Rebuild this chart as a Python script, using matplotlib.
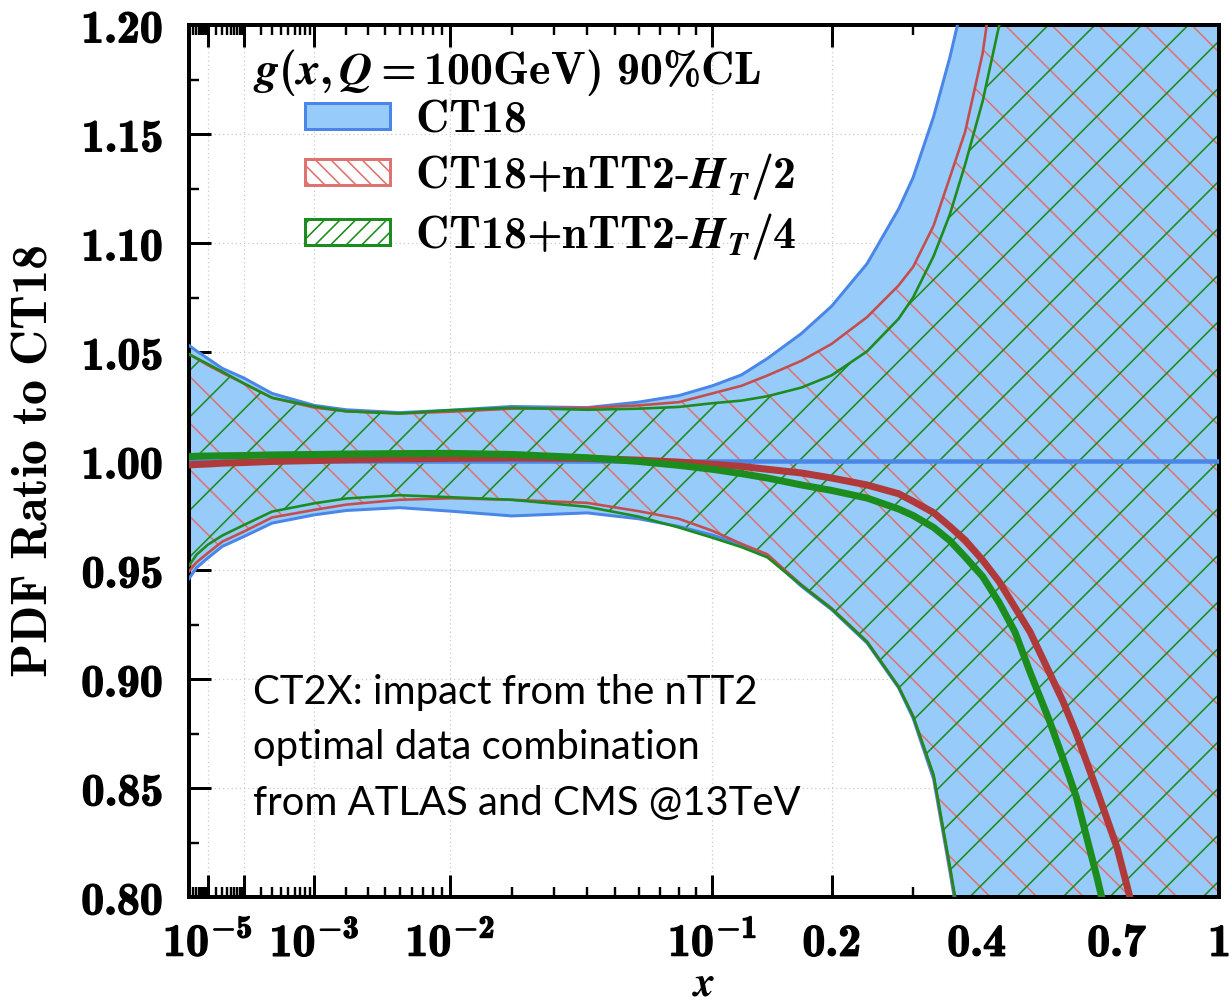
import numpy as np
import matplotlib
matplotlib.use("Agg")
import matplotlib.pyplot as plt
import matplotlib.patheffects as pe
from matplotlib.patches import Patch

DPI = 140
W, H = 1230, 1005


def pt(px):
    # sizes below are measured in pixels of the target picture
    return px * 72 / DPI


plt.rcParams["mathtext.fontset"] = "custom"
plt.rcParams["mathtext.rm"] = "cmr10"
plt.rcParams["mathtext.it"] = "cmmi10"
plt.rcParams["mathtext.bf"] = "cmb10"
if "mathtext.bfit" in plt.rcParams:
    plt.rcParams["mathtext.bfit"] = "STIXGeneral:italic:bold"
plt.rcParams["hatch.linewidth"] = pt(1.6)

# ratio to CT18, g(x, Q=100 GeV), 90% CL
x = [1e-6, 3e-6, 1e-5, 3e-5, 1e-4, 3e-4, 1e-3, 2e-3, 5e-3, 1e-2,
     2e-2, 4e-2, 6e-2, 0.08, 0.1, 0.12, 0.14, 0.17, 0.2, 0.24,
     0.28, 0.3, 0.33, 0.355, 0.38, 0.41, 0.44, 0.47, 0.5, 0.54,
     0.57, 0.6, 0.65, 0.7, 0.73, 0.76, 0.8, 0.9, 1.0]

ct18_hi = [1.053, 1.0505, 1.047, 1.0425, 1.038, 1.031, 1.0255, 1.0235, 1.0222, 1.0233,
           1.025, 1.0245, 1.027, 1.030, 1.0345, 1.0395, 1.047, 1.0585, 1.071, 1.0905,
           1.1155, 1.130, 1.158, 1.185, 1.215, 1.26, 1.31, 1.36, 1.42, 1.5,
           1.56, 1.62, 1.72, 1.83, 1.9, 1.97, 2.06, 2.3, 2.6]
ct18_lo = [0.946, 0.951, 0.9555, 0.9608, 0.9654, 0.9715, 0.9753, 0.9773, 0.9786, 0.977,
           0.9748, 0.9762, 0.9735, 0.970, 0.966, 0.9615, 0.9565, 0.9425, 0.9318, 0.9165,
           0.896, 0.882, 0.854, 0.812, 0.77, 0.71, 0.65, 0.59, 0.53, 0.45,
           0.39, 0.33, 0.24, 0.15, 0.1, 0.05, -0.02, -0.2, -0.35]
ct18_mid = [1.0] * len(x)

ht2_hi = [1.049, 1.047, 1.044, 1.0405, 1.0355, 1.029, 1.0245, 1.0228, 1.0218, 1.0226,
          1.024, 1.0244, 1.0255, 1.027, 1.031, 1.0345, 1.0392, 1.046, 1.0537, 1.066,
          1.0805, 1.089, 1.108, 1.130, 1.151, 1.187, 1.24, 1.29, 1.35, 1.44,
          1.5, 1.57, 1.68, 1.8, 1.87, 1.95, 2.05, 2.35, 2.7]
ht2_lo = [0.9494, 0.9535, 0.9578, 0.963, 0.9677, 0.9741, 0.9776, 0.980, 0.9822, 0.9829,
          0.9822, 0.9808, 0.977, 0.9735, 0.968, 0.962, 0.9572, 0.9432, 0.9325, 0.9172,
          0.8966, 0.883, 0.8555, 0.8135, 0.772, 0.713, 0.653, 0.593, 0.533, 0.453,
          0.393, 0.333, 0.243, 0.153, 0.103, 0.053, -0.017, -0.197, -0.347]
ht2_mid = [0.9982, 0.9984, 0.9986, 0.999, 0.9993, 0.9998, 1.0002, 1.0006, 1.001, 1.0012,
           1.0014, 1.0012, 1.0004, 0.9995, 0.9985, 0.9975, 0.9962, 0.9945, 0.9922, 0.989,
           0.985, 0.9815, 0.9763, 0.970, 0.9637, 0.9545, 0.9446, 0.9328, 0.9215, 0.903,
           0.8897, 0.875, 0.8485, 0.8225, 0.8023, 0.78, 0.75, 0.66, 0.55]

ht4_hi = [1.049, 1.0472, 1.0445, 1.041, 1.0355, 1.029, 1.025, 1.0228, 1.0218, 1.0233,
          1.0244, 1.0235, 1.024, 1.0248, 1.0265, 1.0277, 1.0297, 1.0337, 1.0393, 1.0503,
          1.0652, 1.075, 1.094, 1.113, 1.136, 1.165, 1.20, 1.24, 1.29, 1.36,
          1.42, 1.48, 1.58, 1.69, 1.76, 1.83, 1.93, 2.2, 2.5]
ht4_lo = [0.952, 0.957, 0.9616, 0.9658, 0.9707, 0.9768, 0.9806, 0.9828, 0.9843, 0.9834,
          0.9822, 0.979, 0.9745, 0.9695, 0.9648, 0.9605, 0.9558, 0.943, 0.9322, 0.917,
          0.8965, 0.883, 0.856, 0.8145, 0.773, 0.714, 0.654, 0.594, 0.534, 0.454,
          0.394, 0.334, 0.244, 0.154, 0.104, 0.054, -0.016, -0.196, -0.346]
ht4_mid = [1.002, 1.0022, 1.0023, 1.0024, 1.0025, 1.0028, 1.003, 1.0032, 1.0034, 1.0035,
           1.003, 1.0015, 0.9998, 0.998, 0.9962, 0.9942, 0.9922, 0.989, 0.9865, 0.983,
           0.978, 0.975, 0.9695, 0.9635, 0.956, 0.947, 0.935, 0.9215, 0.903, 0.881,
           0.8635, 0.846, 0.8085, 0.77, 0.74, 0.71, 0.67, 0.56, 0.44]

labels = [r"$\mathbf{CT18}$",
          r"$\mathbf{CT18{+}nTT2}\text{-}\mathbfit{H}_{\mathbfit{T}}\mathbf{/2}$",
          r"$\mathbf{CT18{+}nTT2}\text{-}\mathbfit{H}_{\mathbfit{T}}\mathbf{/4}$"]

xtick_vals = [1e-5, 1e-4, 1e-3, 1e-2, 1e-1, 0.2, 0.4, 0.7, 1.0]
xtick_text = [r"$\mathbf{10^{-5}}$", "", r"$\mathbf{10^{-3}}$", r"$\mathbf{10^{-2}}$",
              r"$\mathbf{10^{-1}}$", r"$\mathbf{0.2}$", r"$\mathbf{0.4}$",
              r"$\mathbf{0.7}$", r"$\mathbf{1}$"]
xtick_minor = [k * d for d in (1e-6, 1e-5, 1e-4, 1e-3, 1e-2) for k in range(2, 10)] \
    + [0.3, 0.5, 0.6, 0.8, 0.9]
ytick_vals = [0.80, 0.85, 0.90, 0.95, 1.00, 1.05, 1.10, 1.15, 1.20]

blue_fill = "#97cbfa"
blue_line = "#4a86e8"
red_line = "#b03a3a"
red_edge = "#c44e4e"
red_hatch = "#e07272"
green = "#1c8c1c"

P = 0.286  # the x axis is linear in x**P


def fwd(v):
    return np.power(np.clip(v, 1e-12, None), P)


def inv(v):
    return np.power(np.clip(v, 0, None), 1 / P)


fig = plt.figure(figsize=(W / DPI, H / DPI), dpi=DPI)
ax = fig.add_axes([189 / W, (H - 897) / H, (1219 - 189) / W, (897 - 25) / H])
ax.set_xscale("function", functions=(fwd, inv))
ax.set_xlim(1e-6, 1.0)
ax.set_ylim(0.8, 1.2)

ax.set_axisbelow(True)
ax.grid(True, which="major", color="#c8c8c8", lw=pt(1.2), ls=(0, (1, 2.5)))

# bands
ax.fill_between(x, ct18_lo, ct18_hi, facecolor=blue_fill, edgecolor="none", zorder=1)
ax.fill_between(x, ht2_lo, ht2_hi, facecolor="none", edgecolor=red_hatch,
                hatch="\\", linewidth=0, zorder=2)
ax.fill_between(x, ht4_lo, ht4_hi, facecolor="none", edgecolor=green,
                hatch="/", linewidth=0, zorder=2)

for lo, hi, c, w in [(ct18_lo, ct18_hi, blue_line, 3), (ht2_lo, ht2_hi, red_edge, 2.6),
                     (ht4_lo, ht4_hi, green, 2.6)]:
    ax.plot(x, lo, color=c, lw=pt(w), zorder=3)
    ax.plot(x, hi, color=c, lw=pt(w), zorder=3)

ax.plot(x, ct18_mid, color=blue_line, lw=pt(4.5), zorder=4)
ax.plot(x, ht2_mid, color=red_line, lw=pt(7), zorder=5)
ax.plot(x, ht4_mid, color=green, lw=pt(7), zorder=6)

# axes, ticks
ax.set_xticks(xtick_vals)
ax.set_xticklabels(xtick_text)
ax.set_xticks(xtick_minor, minor=True)
ax.set_yticks(ytick_vals)
ax.set_yticklabels([r"$\mathbf{%.2f}$" % v for v in ytick_vals])
ax.set_yticks([v + 0.025 for v in ytick_vals[:-1]], minor=True)
ax.tick_params(which="both", direction="in", top=True, right=True, labelsize=pt(46))
ax.tick_params(which="major", length=pt(22), width=pt(3))
ax.tick_params(which="minor", length=pt(10), width=pt(2.4))
ax.tick_params(axis="x", pad=pt(24))
ax.tick_params(axis="y", pad=pt(26))
for s in ax.spines.values():
    s.set_linewidth(pt(4))
# the tick numbers are drawn heavier in the original
heavy = [pe.withStroke(linewidth=pt(1.3), foreground="black")]
for t in ax.get_xticklabels() + ax.get_yticklabels():
    t.set_path_effects(heavy)

ax.set_ylabel(r"$\mathbf{PDF\ Ratio\ to\ CT18}$", fontsize=pt(50))
ax.yaxis.set_label_coords((57 - 189) / 1030, 0.5)
ax.set_xlabel(r"$\mathbfit{x}$", fontsize=pt(42))
ax.xaxis.set_label_coords(0.5, -(962 - 897) / 872)

# legend
fig.text(253 / W, 1 - 72 / H,
         r"$\mathbfit{g}\mathbf{(}\mathbfit{x}\mathbf{,}\,\mathbfit{Q}\mathbf{=100GeV)\ 90\%CL}$",
         fontsize=pt(46), ha="left", va="center")
handles = [Patch(facecolor=blue_fill, edgecolor=blue_line, lw=pt(3)),
           Patch(facecolor="white", edgecolor=red_hatch, hatch="\\\\\\", lw=pt(3)),
           Patch(facecolor="white", edgecolor=green, hatch="///", lw=pt(3))]
fig.legend(handles, labels, loc="upper left", bbox_to_anchor=(305 / W, 1 - 97 / H),
           frameon=False, fontsize=pt(46), handlelength=1.85, handleheight=0.5,
           handletextpad=0.55, labelspacing=0.2, borderpad=0, borderaxespad=0)

ax.text(0.062, 0.256,
        "CT2X: impact from the nTT2\noptimal data combination\nfrom ATLAS and CMS @13TeV",
        transform=ax.transAxes, family="Lato", fontsize=pt(40), linespacing=1.62,
        ha="left", va="top", zorder=7)

fig.savefig("out.png", dpi=DPI)
